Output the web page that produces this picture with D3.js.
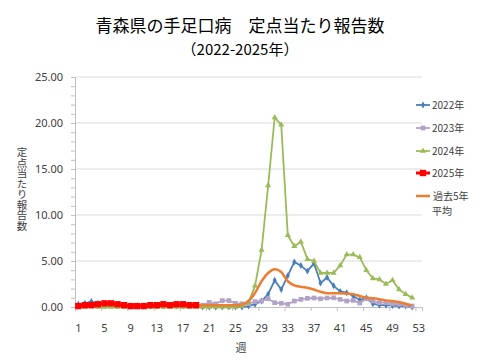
<!DOCTYPE html>
<html>
<head>
<meta charset="utf-8">
<script src="https://cdn.jsdelivr.net/npm/d3@7"></script>
<style>
  html, body { margin: 0; padding: 0; background: #fff; }
  svg { display: block; font-family: "Noto Sans CJK JP", "Noto Sans", sans-serif; }
</style>
</head>
<body>
<svg id="chart" width="480" height="360"></svg>
<script>
// ---- data ----
const weeks = d3.range(1, 54);
const xTickLabels = [1, 5, 9, 13, 17, 21, 25, 29, 33, 37, 41, 45, 49, 53];
const yTickLabels = [0, 5, 10, 15, 20, 25];

const y2022 = [0.3, 0.4, 0.6, 0.4, 0.3, 0.3, 0.2, 0.2, 0.1, 0.1, 0.1, 0.1, 0.1, 0.1, 0.1, 0.1, 0.1, 0.1, 0.1, 0.0,
               0.0, 0.0, 0.0, 0.0, 0.0, 0.0, 0.1, 0.3, 0.65, 1.4, 2.9, 1.9, 3.4, 4.9, 4.5, 3.9, 4.75, 2.6, 3.2, 2.3,
               1.7, 1.55, 1.2, 0.75, 1.0, 0.36, 0.2, 0.2, 0.15, 0.1, 0.1, 0.0];
const y2023 = [0.1, 0.1, 0.1, 0.1, 0.1, 0.1, 0.1, 0.1, 0.1, 0.1, 0.1, 0.1, 0.1, 0.1, 0.1, 0.1, 0.2, 0.1, 0.2, 0.2,
               0.5, 0.35, 0.7, 0.7, 0.4, 0.35, 0.36, 0.58, 0.65, 0.9, 0.47, 0.4, 0.3, 0.65, 0.83, 0.94, 0.98, 0.9, 0.98, 1.0,
               0.83, 0.65, 0.72, 0.43, 0.9, 0.65, 0.47, 0.47, 0.36, 0.3, 0.18, 0.1];
const y2024 = [0.0, 0.0, 0.1, 0.0, 0.0, 0.0, 0.0, 0.0, 0.0, 0.0, 0.0, 0.0, 0.0, 0.0, 0.0, 0.0, 0.0, 0.0, 0.0, 0.0,
               0.0, 0.0, 0.0, 0.0, 0.0, 0.1, 0.5, 2.3, 6.2, 13.2, 20.6, 19.8, 7.8, 6.6, 7.1, 5.2, 5.0, 3.7, 3.7, 3.7,
               4.5, 5.7, 5.7, 5.4, 4.0, 3.1, 3.0, 2.5, 2.9, 1.9, 1.4, 1.0];
const y2025 = [0.1, 0.2, 0.2, 0.3, 0.4, 0.4, 0.3, 0.2, 0.1, 0.1, 0.1, 0.2, 0.2, 0.3, 0.2, 0.3, 0.3, 0.2, 0.2];
const yAvg  = [0.3, 0.3, 0.3, 0.3, 0.3, 0.3, 0.3, 0.2, 0.2, 0.2, 0.2, 0.2, 0.2, 0.2, 0.2, 0.2, 0.2, 0.2, 0.2, 0.2,
               0.2, 0.2, 0.2, 0.2, 0.2, 0.25, 0.65, 1.55, 2.8, 3.7, 4.1, 3.8, 2.8, 2.35, 2.2, 2.1, 1.9, 1.65, 1.5, 1.5,
               1.5, 1.45, 1.4, 1.2, 1.0, 0.95, 0.85, 0.72, 0.65, 0.55, 0.35, 0.18];

const seriesNames = ["2022年", "2023年", "2024年", "2025年", "過去5年平均"];

// ---- layout ----
const svg = d3.select("#chart");
const plot = { left: 75, right: 422, top: 77, bottom: 307 };

const x = d3.scaleLinear().domain([0.5, 53.5]).range([plot.left, plot.right]);
const y = d3.scaleLinear().domain([0, 25]).range([plot.bottom, plot.top]);

// gridlines
svg.append("g")
  .selectAll("line").data(yTickLabels.filter(d => d > 0)).join("line")
  .attr("x1", plot.left).attr("x2", plot.right)
  .attr("y1", d => y(d)).attr("y2", d => y(d))
  .attr("stroke", "#d9d9d9").attr("stroke-width", 1);

// y axis
const yAxis = svg.append("g").attr("transform", `translate(${plot.left},0)`)
  .call(d3.axisLeft(y).tickValues(d3.range(0, 26)).tickSize(4).tickPadding(8)
    .tickFormat(d => d % 5 === 0 ? d.toFixed(2) : ""));
yAxis.select(".domain").attr("stroke", "#bfbfbf");
yAxis.selectAll(".tick line").attr("stroke", "#bfbfbf");
yAxis.selectAll(".tick text").attr("fill", "#404040").style("font-size", "11px")
  .style("font-family", "'Noto Sans', sans-serif");

// x axis: tick marks at category boundaries, labels at category centers
const xAxis = svg.append("g").attr("transform", `translate(0,${plot.bottom})`)
  .call(d3.axisBottom(x).tickValues(d3.range(0.5, 54, 4)).tickSize(4).tickFormat(""));
xAxis.select(".domain").attr("stroke", "#bfbfbf");
xAxis.selectAll(".tick line").attr("stroke", "#bfbfbf");
svg.append("g").selectAll("text").data(xTickLabels).join("text")
  .attr("x", d => x(d)).attr("y", 332)
  .attr("text-anchor", "middle")
  .attr("fill", "#404040").style("font-size", "11px")
  .style("font-family", "'Noto Sans', sans-serif")
  .text(d => d);

// axis titles
svg.append("text").attr("x", 241).attr("y", 352).attr("text-anchor", "middle")
  .attr("fill", "#404040").style("font-size", "11px").text("週");
svg.append("text")
  .attr("x", 22).attr("y", 147)
  .attr("fill", "#404040")
  .style("font-size", "10.5px")
  .style("writing-mode", "vertical-rl")
  .style("glyph-orientation-vertical", "0")
  .text("定点当たり報告数");

// title
svg.append("text").attr("x", 240).attr("y", 32).attr("text-anchor", "middle")
  .attr("fill", "#000").style("font-size", "17px").text("青森県の手足口病　定点当たり報告数");
svg.append("text").attr("x", 240).attr("y", 54.5).attr("text-anchor", "middle")
  .attr("fill", "#000").style("font-size", "15px").text("（2022-2025年）");

// ---- series ----
const series = [
  { name: seriesNames[0], data: y2022, color: "#4a7ebb", width: 1.8, marker: "diamond", size: 14, curve: d3.curveLinear },
  { name: seriesNames[1], data: y2023, color: "#b3a2c7", width: 1.8, marker: "square", size: 22, curve: d3.curveLinear },
  { name: seriesNames[2], data: y2024, color: "#9bbb59", width: 1.8, marker: "triangle", size: 16, curve: d3.curveLinear },
  { name: seriesNames[4], data: yAvg, color: "#ed7d31", width: 2.5, marker: null, size: 0, curve: d3.curveCatmullRom },
  { name: seriesNames[3], data: y2025, color: "#ff0000", width: 3, marker: "square", size: 40, curve: d3.curveLinear },
];
const symbolType = { diamond: d3.symbolDiamond, square: d3.symbolSquare, triangle: d3.symbolTriangle };

series.forEach(s => {
  const pts = s.data.map((v, i) => [weeks[i], v]);
  const line = d3.line().x(d => x(d[0])).y(d => y(d[1])).curve(s.curve);
  svg.append("path").datum(pts).attr("d", line)
    .attr("fill", "none").attr("stroke", s.color).attr("stroke-width", s.width)
    .attr("stroke-linejoin", "round");
  if (s.marker) {
    svg.append("g").selectAll("path").data(pts).join("path")
      .attr("transform", d => `translate(${x(d[0])},${y(d[1])})`)
      .attr("d", d3.symbol().type(symbolType[s.marker]).size(s.size))
      .attr("fill", s.color);
  }
});

// ---- legend ----
const legendItems = [
  { label: ["2022年"], color: "#4a7ebb", width: 1.8, marker: "diamond", size: 14, y: 105 },
  { label: ["2023年"], color: "#b3a2c7", width: 1.8, marker: "square", size: 22, y: 128 },
  { label: ["2024年"], color: "#9bbb59", width: 1.8, marker: "triangle", size: 16, y: 151 },
  { label: ["2025年"], color: "#ff0000", width: 3, marker: "square", size: 40, y: 173 },
  { label: ["過去5年", "平均"], color: "#ed7d31", width: 2.5, marker: null, size: 0, y: 196 },
];
const lg = svg.append("g");
legendItems.forEach(it => {
  lg.append("line").attr("x1", 416).attr("x2", 430).attr("y1", it.y).attr("y2", it.y)
    .attr("stroke", it.color).attr("stroke-width", it.width);
  if (it.marker) {
    lg.append("path").attr("transform", `translate(423,${it.y})`)
      .attr("d", d3.symbol().type(symbolType[it.marker]).size(it.size)).attr("fill", it.color);
  }
  it.label.forEach((t, j) => {
    lg.append("text").attr("x", j === 0 && it.label.length > 1 ? 433 : 432).attr("y", it.y + 4 + j * 15)
      .attr("fill", "#404040").style("font-size", "10px").text(t);
  });
});
</script>
</body>
</html>
